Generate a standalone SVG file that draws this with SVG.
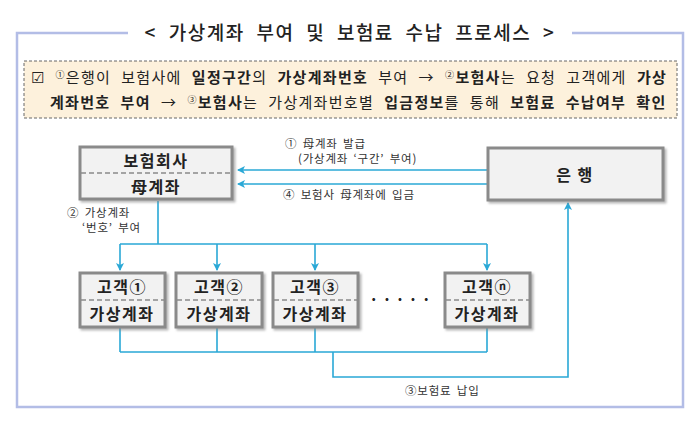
<svg xmlns="http://www.w3.org/2000/svg" width="700" height="421" viewBox="0 0 700 421">
<defs>
<marker id="ah" markerWidth="8" markerHeight="8" refX="7" refY="4" orient="auto" markerUnits="userSpaceOnUse"><path d="M0,0 L8,4 L0,8 L2,4 Z" fill="#2aa8d6"/></marker>
<filter id="sh" x="-10%" y="-10%" width="130%" height="130%"><feDropShadow dx="2" dy="2" stdDeviation="1.2" flood-color="#888" flood-opacity="0.6"/></filter>
</defs>
<style>
text{font-family:"Noto Sans CJK KR","Noto Sans",sans-serif;fill:#222}
.box{fill:#f2f2f2;stroke:#8a8a8a;stroke-width:3;filter:url(#sh)}
.div{stroke:#8a8a8a;stroke-width:1.5;stroke-dasharray:5,3}
.nb{font-size:16px;font-weight:bold;text-anchor:middle;letter-spacing:1.5px}
.ln{fill:none;stroke:#2aa8d6;stroke-width:1.6}
.lb{font-size:11.5px;fill:#333;letter-spacing:0.8px;word-spacing:2px}
</style>
<rect width="700" height="421" fill="#fff"/>
<path d="M128,33 H17 V407 H683 V33 H572" fill="none" stroke="#b3bde6" stroke-width="2.5"/>
<text x="350" y="40" font-size="19" text-anchor="middle" font-weight="500" letter-spacing="1.5" word-spacing="6">&lt; 가상계좌 부여 및 보험료 수납 프로세스 &gt;</text>
<rect x="24" y="61" width="653" height="57" fill="#fdf1dc" stroke="#666" stroke-width="1" stroke-dasharray="3,2"/>
<text x="31" y="83" font-size="15" letter-spacing="1.3" word-spacing="5.5">☑ <tspan font-size="9" dy="-5">①</tspan><tspan dy="5">은행이 보험사에 </tspan><tspan font-weight="bold">일정구간</tspan>의 <tspan font-weight="bold">가상계좌번호</tspan> 부여 → <tspan font-size="9" dy="-5">②</tspan><tspan dy="5" font-weight="bold">보험사</tspan>는 요청 고객에게 <tspan font-weight="bold">가상</tspan></text>
<text x="50" y="108" font-size="15" letter-spacing="1.3" word-spacing="5.5"><tspan font-weight="bold">계좌번호 부여</tspan> → <tspan font-size="9" dy="-5">③</tspan><tspan dy="5" font-weight="bold">보험사</tspan>는 가상계좌번호별 <tspan font-weight="bold">입금정보</tspan>를 통해 <tspan font-weight="bold">보험료 수납여부 확인</tspan></text>

<g id="connectors">
<line class="ln" x1="488" y1="170" x2="238" y2="170" marker-end="url(#ah)"/>
<line class="ln" x1="488" y1="184" x2="238" y2="184" marker-end="url(#ah)"/>
<path class="ln" d="M158,201 V244 M120,244 H487"/>
<line class="ln" x1="120" y1="244" x2="120" y2="270" marker-end="url(#ah)"/>
<line class="ln" x1="217" y1="244" x2="217" y2="270" marker-end="url(#ah)"/>
<line class="ln" x1="315" y1="244" x2="315" y2="270" marker-end="url(#ah)"/>
<line class="ln" x1="487" y1="244" x2="487" y2="270" marker-end="url(#ah)"/>
<path class="ln" d="M120,328 V352 M217,328 V352 M315,328 V352 M487,328 V352 M120,352 H487"/>
<path class="ln" d="M333,352 V377 H568 V203" marker-end="url(#ah)"/>
<text class="lb" x="285" y="148">① 母계좌 발급</text>
<text class="lb" x="298" y="163">(가상계좌 ‘구간’ 부여)</text>
<text class="lb" x="283" y="199">④ 보험사 母계좌에 입금</text>
<text class="lb" x="67" y="217">② 가상계좌</text>
<text class="lb" x="82" y="232">‘번호’ 부여</text>
<text class="lb" x="405" y="395">③보험료 납입</text>
</g>

<g id="insurer"><rect class="box" x="80" y="147" width="152" height="52"/><line class="div" x1="81" y1="173" x2="231" y2="173"/><text class="nb" x="156" y="167" font-size="17">보험회사</text><text class="nb" x="156" y="193" font-size="17">母계좌</text></g>
<g id="bank"><rect class="box" x="488" y="148" width="175" height="52"/><text class="nb" x="575" y="181" font-size="18" letter-spacing="3">은  행</text></g>
<g id="c1"><rect class="box" x="80" y="273" width="85" height="54"/><line class="div" x1="81" y1="300" x2="164" y2="300"/><text class="nb" x="122" y="293">고객①</text><text class="nb" x="122" y="320">가상계좌</text></g>
<g id="c2"><rect class="box" x="176" y="273" width="86" height="54"/><line class="div" x1="177" y1="300" x2="261" y2="300"/><text class="nb" x="219" y="293">고객②</text><text class="nb" x="219" y="320">가상계좌</text></g>
<g id="c3"><rect class="box" x="273" y="273" width="85" height="54"/><line class="div" x1="274" y1="300" x2="357" y2="300"/><text class="nb" x="315" y="293">고객③</text><text class="nb" x="315" y="320">가상계좌</text></g>
<g id="cn"><rect class="box" x="445" y="273" width="85" height="54"/><line class="div" x1="446" y1="300" x2="529" y2="300"/><text class="nb" x="487" y="293">고객ⓝ</text><text class="nb" x="487" y="320">가상계좌</text></g>
<text x="400" y="305" font-size="16" text-anchor="middle" font-weight="bold">· · · · ·</text>
</svg>
